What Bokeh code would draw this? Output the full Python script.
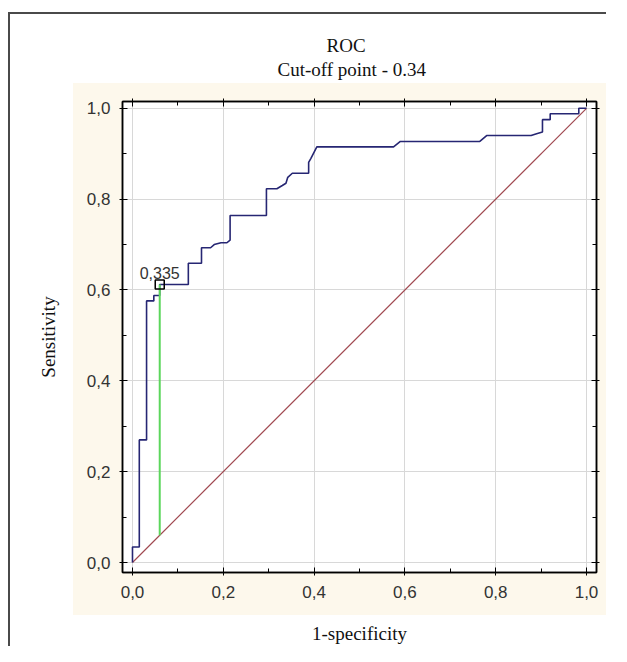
from bokeh.plotting import figure
from bokeh.models import (FixedTicker, CustomJSTickFormatter, LinearAxis, Label,
                          Title, Range1d)
from bokeh.embed import file_html
from bokeh.resources import INLINE

# ---- data ----
fpr = [0.0, 0.0, 0.015, 0.015, 0.031, 0.031, 0.047, 0.047, 0.06, 0.06,
       0.123, 0.123, 0.152, 0.152, 0.172, 0.18, 0.195, 0.208, 0.215, 0.215,
       0.295, 0.295, 0.318, 0.33, 0.338, 0.342, 0.352, 0.388, 0.388, 0.393,
       0.406, 0.575, 0.59, 0.765, 0.78, 0.878, 0.89, 0.903, 0.903, 0.92,
       0.92, 0.983, 0.983, 1.0]
tpr = [0.0, 0.034, 0.034, 0.27, 0.27, 0.576, 0.576, 0.588, 0.588, 0.612,
       0.612, 0.659, 0.659, 0.693, 0.693, 0.70, 0.704, 0.704, 0.71, 0.764,
       0.764, 0.823, 0.823, 0.83, 0.835, 0.848, 0.857, 0.857, 0.881, 0.89,
       0.915, 0.915, 0.927, 0.927, 0.94, 0.94, 0.944, 0.948, 0.975, 0.975,
       0.988, 0.988, 1.0, 1.0]
diag_x = [0.0, 1.0]
diag_y = [0.0, 1.0]
cutoff_fpr = 0.06
cutoff_tpr = 0.612
cutoff_label = "0,335"
title_main = "ROC"
title_sub = "Cut-off point - 0.34"
major_ticks = [0.0, 0.2, 0.4, 0.6, 0.8, 1.0]
minor_ticks = [0.1, 0.3, 0.5, 0.7, 0.9]
x_label = "1-specificity"
y_label = "Sensitivity"

# ---- styling ----
BEIGE = "#fdf8ec"
FRAME = "#4a4a4a"
X0, X1 = -0.022, 1.022
Y0, Y1 = -0.022, 1.015
SERIF = "Liberation Serif"
SANS = "Liberation Sans"

p = figure(width=611, height=646, x_range=Range1d(X0, X1), y_range=Range1d(Y0, Y1),
           output_backend="svg", toolbar_location=None, title=None,
           min_border_left=122, min_border_right=15, min_border_top=101,
           min_border_bottom=74, background_fill_color="white",
           background_fill_alpha=1.0,
           border_fill_color="white", border_fill_alpha=0.0,
           outline_line_color="black", outline_line_width=1.5)

# page background: outer frame lines and the beige graph window
p.styles = {
    "background-color": "#ffffff",
    "background-image": (f"linear-gradient({FRAME},{FRAME}), "
                         f"linear-gradient({FRAME},{FRAME}), "
                         f"linear-gradient({BEIGE},{BEIGE})"),
    "background-position": "8px 12px, 8px 12px, 73px 83px",
    "background-size": "2px 640px, 598px 2px, 533px 532px",
    "background-repeat": "no-repeat, no-repeat, no-repeat",
}

fmt = CustomJSTickFormatter(code="return tick.toFixed(1).replace('.', ',');")


def style_axis(ax, labels=True):
    ax.ticker = FixedTicker(ticks=major_ticks, minor_ticks=minor_ticks)
    ax.axis_line_color = "black"
    ax.axis_line_width = 1.5
    ax.major_tick_line_color = "black"
    ax.minor_tick_line_color = "black"
    ax.major_tick_in = 5
    ax.major_tick_out = 3
    ax.minor_tick_in = 4
    ax.minor_tick_out = 0
    if labels:
        ax.formatter = fmt
        ax.major_label_text_font = SANS
        ax.major_label_text_font_size = "17px"
        ax.major_label_text_color = "#333333"
        ax.axis_label_text_font = SERIF
        ax.axis_label_text_font_size = "19px"
        ax.axis_label_text_font_style = "normal"
        ax.axis_label_text_color = "#111111"
    else:
        ax.major_label_text_font_size = "0px"
        ax.major_label_text_alpha = 0
        ax.major_label_standoff = 0


style_axis(p.xaxis[0])
style_axis(p.yaxis[0])
p.xaxis[0].axis_label = x_label
p.yaxis[0].axis_label = y_label
p.xaxis[0].major_label_standoff = 10
p.yaxis[0].major_label_standoff = 9
p.xaxis[0].axis_label_standoff = 22
p.yaxis[0].axis_label_standoff = 25

top_ax = LinearAxis()
style_axis(top_ax, labels=False)
p.add_layout(top_ax, "above")
right_ax = LinearAxis()
style_axis(right_ax, labels=False)
p.add_layout(right_ax, "right")

# titles (sub title nearest the plot, main title above it)
t_sub = Title(text=title_sub, align="left", offset=155, text_font=SERIF,
              text_font_size="19px", text_font_style="normal",
              text_color="#111111", standoff=38)
p.add_layout(t_sub, "above")
t_main = Title(text=title_main, align="left", offset=204, text_font=SERIF,
               text_font_size="19px", text_font_style="normal",
               text_color="#111111", standoff=-36)
p.add_layout(t_main, "above")

for g in (p.xgrid[0], p.ygrid[0]):
    g.ticker = FixedTicker(ticks=major_ticks)
    g.grid_line_color = "#d8d8d8"
    g.grid_line_width = 1

# diagonal
p.line(diag_x, diag_y, line_color="#a04850", line_width=1.2)
# ROC curve
p.line(fpr, tpr, line_color="#262673", line_width=1.6)
# cut-off line and marker
p.line([cutoff_fpr, cutoff_fpr], [cutoff_fpr, cutoff_tpr], line_color="#5cd65c",
       line_width=2)
p.scatter([cutoff_fpr], [cutoff_tpr], marker="square", size=9, fill_alpha=0.0,
          line_color="black", line_width=1.5)
p.add_layout(Label(x=cutoff_fpr, y=cutoff_tpr, text=cutoff_label, text_align="center",
                   text_baseline="bottom", y_offset=6, text_font=SANS,
                   text_font_size="16px", text_color="#333333"))

open("out.html", "w").write(file_html(p, INLINE))
